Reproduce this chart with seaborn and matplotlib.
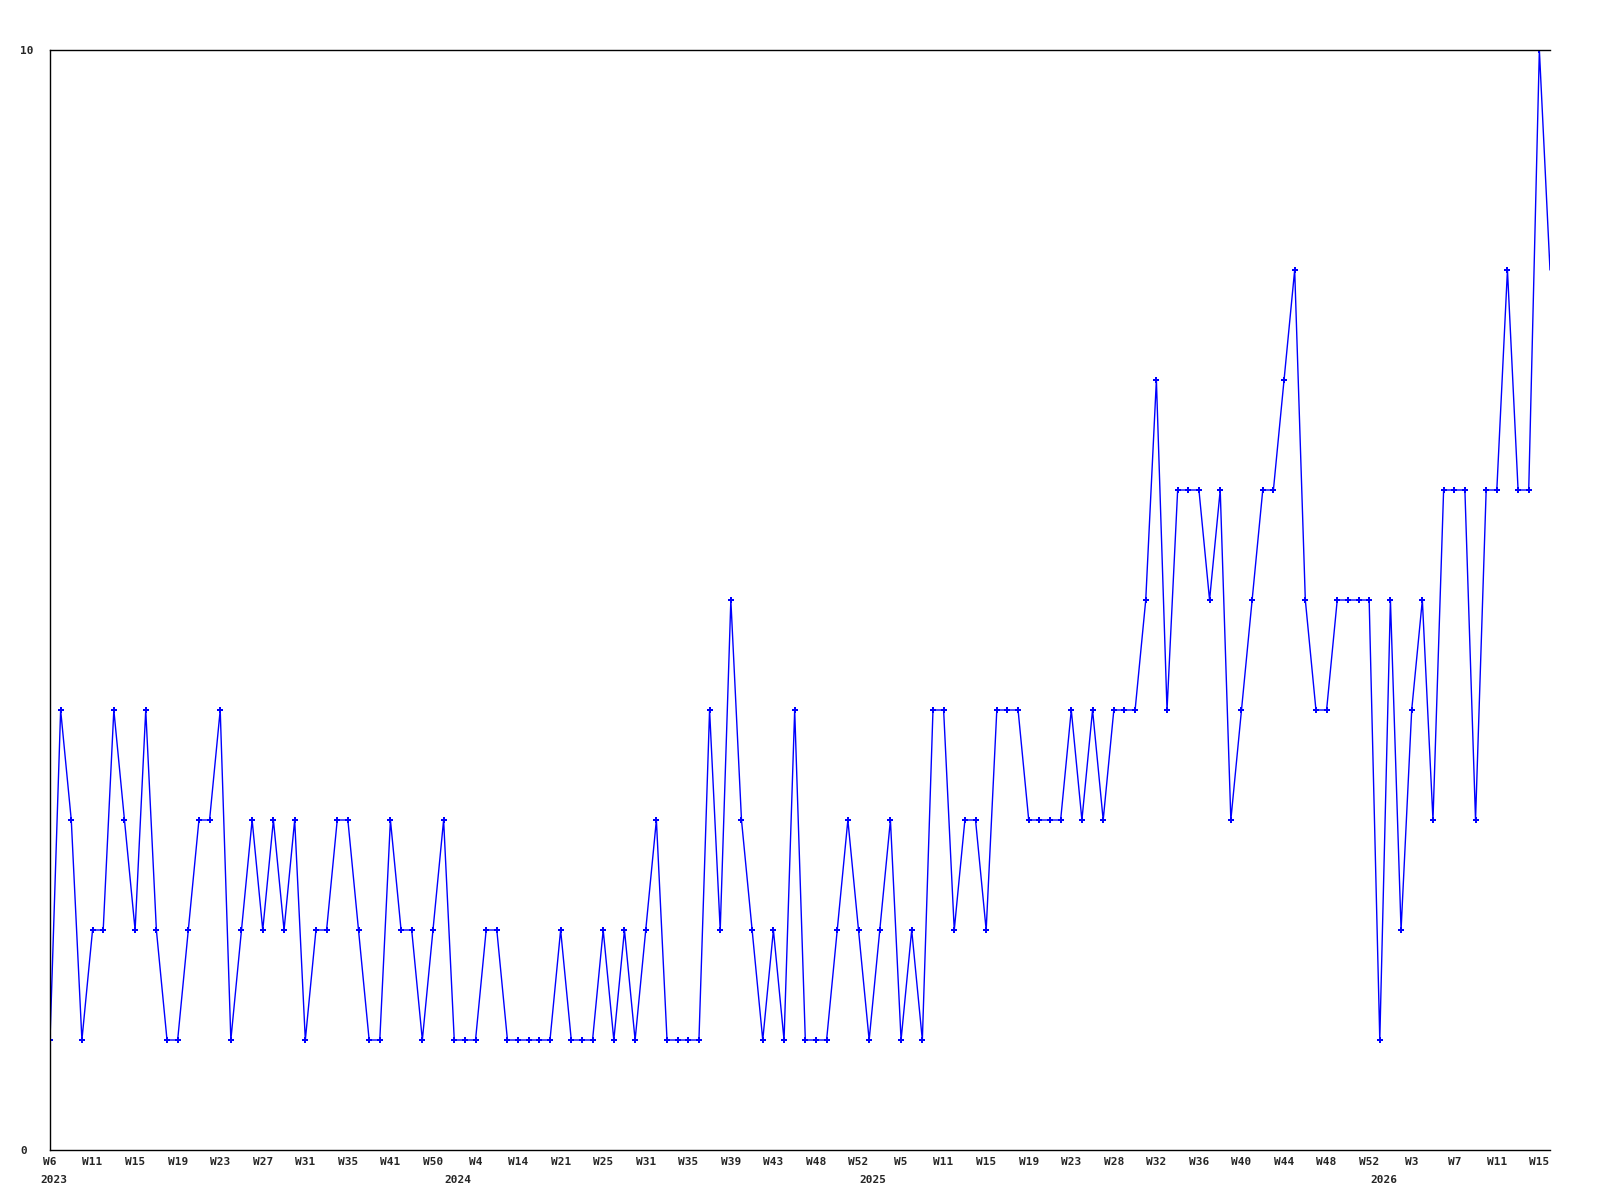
import pandas as pd
import matplotlib
matplotlib.use("Agg")
import matplotlib.pyplot as plt
import matplotlib.transforms as mtransforms
import seaborn as sns

# weekly counts, one per week that has data (missing weeks are skipped on the axis)
values = [1, 4, 3, 1, 2, 2, 4, 3, 2, 4, 2, 1, 1, 2, 3, 3, 4, 1, 2, 3,
          2, 3, 2, 3, 1, 2, 2, 3, 3, 2, 1, 1, 3, 2, 2, 1, 2, 3, 1, 1,
          1, 2, 2, 1, 1, 1, 1, 1, 2, 1, 1, 1, 2, 1, 2, 1, 2, 3, 1, 1,
          1, 1, 4, 2, 5, 3, 2, 1, 2, 1, 4, 1, 1, 1, 2, 3, 2, 1, 2, 3,
          1, 2, 1, 4, 4, 2, 3, 3, 2, 4, 4, 4, 3, 3, 3, 3, 4, 3, 4, 3,
          4, 4, 4, 5, 7, 4, 6, 6, 6, 5, 6, 3, 4, 5, 6, 6, 7, 8, 5, 4,
          4, 5, 5, 5, 5, 1, 5, 2, 4, 5, 3, 6, 6, 6, 3, 6, 6, 8, 6, 6,
          10, 8]

# week label on every 4th point
week_labels = ["W6", "W11", "W15", "W19", "W23", "W27", "W31", "W35", "W41", "W50",
               "W4", "W14", "W21", "W25", "W31", "W35", "W39", "W43", "W48", "W52",
               "W5", "W11", "W15", "W19", "W23", "W28", "W32", "W36", "W40", "W44",
               "W48", "W52", "W3", "W7", "W11", "W15"]

# year labels and the point where each year begins
year_labels = ["2023", "2024", "2025", "2026"]
year_pos = [0, 38, 77, 125]

df = pd.DataFrame({"semana": range(len(values)), "total": values})

sns.set_style("white")
plt.rcParams["font.family"] = ["DejaVu Sans Mono"]
plt.rcParams["font.weight"] = "bold"

fig = plt.figure(figsize=(16, 12), dpi=100)
ax = fig.add_axes([50 / 1600, 50 / 1200, 1500 / 1600, 1100 / 1200])

sns.lineplot(data=df, x="semana", y="total", color="#0000ff", linewidth=1.0,
             marker="P", markersize=4.5, markeredgewidth=0,
             markevery=list(range(len(values) - 1)), ax=ax)

ax.set_xlim(0, len(values) - 1)
ax.set_ylim(0, 10)

# semanas embaixo, anos numa segunda linha
ax.xaxis.remove_overlapping_locs = False
ax.set_xticks(range(0, len(values), 4))
ax.set_xticklabels(week_labels, fontsize=8, fontweight="bold")
ax.set_xticks(year_pos, minor=True)
ax.set_xticklabels(year_labels, minor=True, fontsize=8, fontweight="bold")
ax.tick_params(axis="x", which="major", length=0, pad=5)
ax.tick_params(axis="x", which="minor", length=0, pad=18)
deslocamento = mtransforms.ScaledTranslation(4 / 100, 0, fig.dpi_scale_trans)
for lab in ax.xaxis.get_minorticklabels():
    lab.set_transform(lab.get_transform() + deslocamento)

ax.set_yticks([0, 10])
ax.set_yticklabels(["0", "10"], fontsize=8, fontweight="bold")
ax.tick_params(axis="y", length=0, pad=21.6)
for lab in ax.get_yticklabels():
    lab.set_horizontalalignment("left")

ax.set_xlabel("")
ax.set_ylabel("")
for side in ["left", "top", "bottom"]:
    ax.spines[side].set_color("black")
    ax.spines[side].set_linewidth(1)
ax.spines["right"].set_visible(False)

fig.savefig("out.png", dpi=100, facecolor="white")
